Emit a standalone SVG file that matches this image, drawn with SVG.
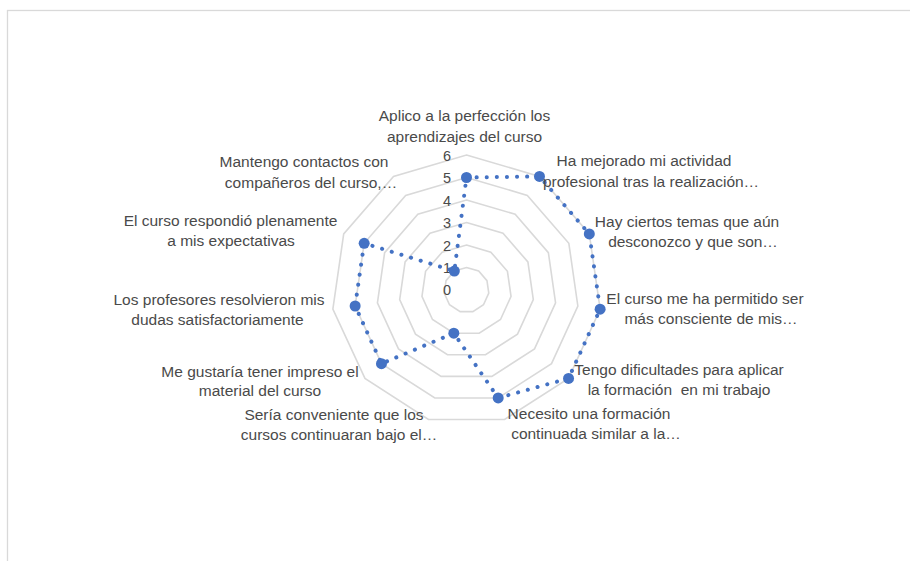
<svg xmlns="http://www.w3.org/2000/svg" width="910" height="561" viewBox="0 0 910 561">
<style>
.ring{fill:none;stroke:#D9D9D9;stroke-width:1.6}
.cat{font-family:"Liberation Sans",Arial,sans-serif;font-size:15.5px;fill:#4a4a4a;text-anchor:middle;white-space:pre}
.tick{font-family:"Liberation Sans",Arial,sans-serif;font-size:14.5px;fill:#4a4a4a;text-anchor:end}
.series{fill:none;stroke:#4472C4;stroke-width:4;stroke-linecap:round;stroke-linejoin:round;stroke-dasharray:0.1 10}
.mk{fill:#4472C4}
</style>
<rect x="0" y="0" width="910" height="561" fill="#FFFFFF"/>
<rect x="7.5" y="10.5" width="910" height="560" fill="#FFFFFF" stroke="#D9D9D9" stroke-width="1.3"/>
<g id="grid">
<polygon class="ring" points="466.5,267.5 478.66,271.07 486.97,280.65 488.77,293.2 483.5,304.73 472.84,311.59 460.16,311.59 449.5,304.73 444.23,293.2 446.03,280.65 454.34,271.07"/>
<polygon class="ring" points="466.5,245 490.83,252.14 507.43,271.31 511.04,296.4 500.51,319.47 479.18,333.18 453.82,333.18 432.49,319.47 421.96,296.4 425.57,271.31 442.17,252.14"/>
<polygon class="ring" points="466.5,222.5 502.99,233.22 527.9,261.96 533.31,299.61 517.51,334.2 485.52,354.77 447.48,354.77 415.49,334.2 399.69,299.61 405.1,261.96 430.01,233.22"/>
<polygon class="ring" points="466.5,200 515.16,214.29 548.37,252.61 555.58,302.81 534.52,348.94 491.86,376.35 441.14,376.35 398.48,348.94 377.42,302.81 384.63,252.61 417.84,214.29"/>
<polygon class="ring" points="466.5,177.5 527.32,195.36 568.83,243.27 577.85,306.01 551.52,363.67 498.19,397.94 434.81,397.94 381.48,363.67 355.15,306.01 364.17,243.27 405.68,195.36"/>
<polygon class="ring" points="466.5,155 539.49,176.43 589.3,233.92 600.13,309.21 568.53,378.41 504.53,419.53 428.47,419.53 364.97,378.41 332.87,309.21 343.7,233.92 393.53,176.43"/>
</g>
<g id="scale">
<text class="tick" x="451" y="295">0</text>
<text class="tick" x="451" y="273">1</text>
<text class="tick" x="451" y="250.5">2</text>
<text class="tick" x="451" y="228">3</text>
<text class="tick" x="451" y="205.5">4</text>
<text class="tick" x="451" y="183">5</text>
<text class="tick" x="451" y="160.5">6</text>
</g>
<g id="connectors">
<polygon class="series" points="466.5,177.5 539.49,176.43 589.3,233.92 600.13,309.21 568.53,378.41 498.19,397.94 453.82,333.18 381.48,363.67 355.15,306.01 364.17,243.27 454.34,271.07"/>
</g>
<g id="markers">
<circle class="mk" cx="466.5" cy="177.5" r="5.5"/>
<circle class="mk" cx="539.49" cy="176.43" r="5.5"/>
<circle class="mk" cx="589.3" cy="233.92" r="5.5"/>
<circle class="mk" cx="600.13" cy="309.21" r="5.5"/>
<circle class="mk" cx="568.53" cy="378.41" r="5.5"/>
<circle class="mk" cx="498.19" cy="397.94" r="5.5"/>
<circle class="mk" cx="453.82" cy="333.18" r="5.5"/>
<circle class="mk" cx="381.48" cy="363.67" r="5.5"/>
<circle class="mk" cx="355.15" cy="306.01" r="5.5"/>
<circle class="mk" cx="364.17" cy="243.27" r="5.5"/>
<circle class="mk" cx="454.34" cy="271.07" r="5.5"/>
</g>
<g id="label-0"><text class="cat" x="464.5" y="121">Aplico a la perfección los</text><text class="cat" x="464.5" y="141.5">aprendizajes del curso</text></g>
<g id="label-1"><text class="cat" x="644" y="166">Ha mejorado mi actividad</text><text class="cat" x="651" y="186.5">profesional tras la realización…</text></g>
<g id="label-2"><text class="cat" x="687" y="226.5">Hay ciertos temas que aún</text><text class="cat" x="693" y="246.5">desconozco y que son…</text></g>
<g id="label-3"><text class="cat" x="705" y="304">El curso me ha permitido ser</text><text class="cat" x="711" y="324">más consciente de mis…</text></g>
<g id="label-4"><text class="cat" x="679" y="375">Tengo dificultades para aplicar</text><text class="cat" x="679" y="395">la formación  en mi trabajo</text></g>
<g id="label-5"><text class="cat" x="589" y="419">Necesito una formación</text><text class="cat" x="596" y="438.5">continuada similar a la…</text></g>
<g id="label-6"><text class="cat" x="334" y="420">Sería conveniente que los</text><text class="cat" x="339" y="440">cursos continuaran bajo el…</text></g>
<g id="label-7"><text class="cat" x="260" y="376.5">Me gustaría tener impreso el</text><text class="cat" x="260" y="396">material del curso</text></g>
<g id="label-8"><text class="cat" x="219" y="305">Los profesores resolvieron mis</text><text class="cat" x="217.5" y="324.5">dudas satisfactoriamente</text></g>
<g id="label-9"><text class="cat" x="230.5" y="226">El curso respondió plenamente</text><text class="cat" x="231" y="246">a mis expectativas</text></g>
<g id="label-10"><text class="cat" x="304" y="166.5">Mantengo contactos con</text><text class="cat" x="311" y="187.5">compañeros del curso,…</text></g>
</svg>
